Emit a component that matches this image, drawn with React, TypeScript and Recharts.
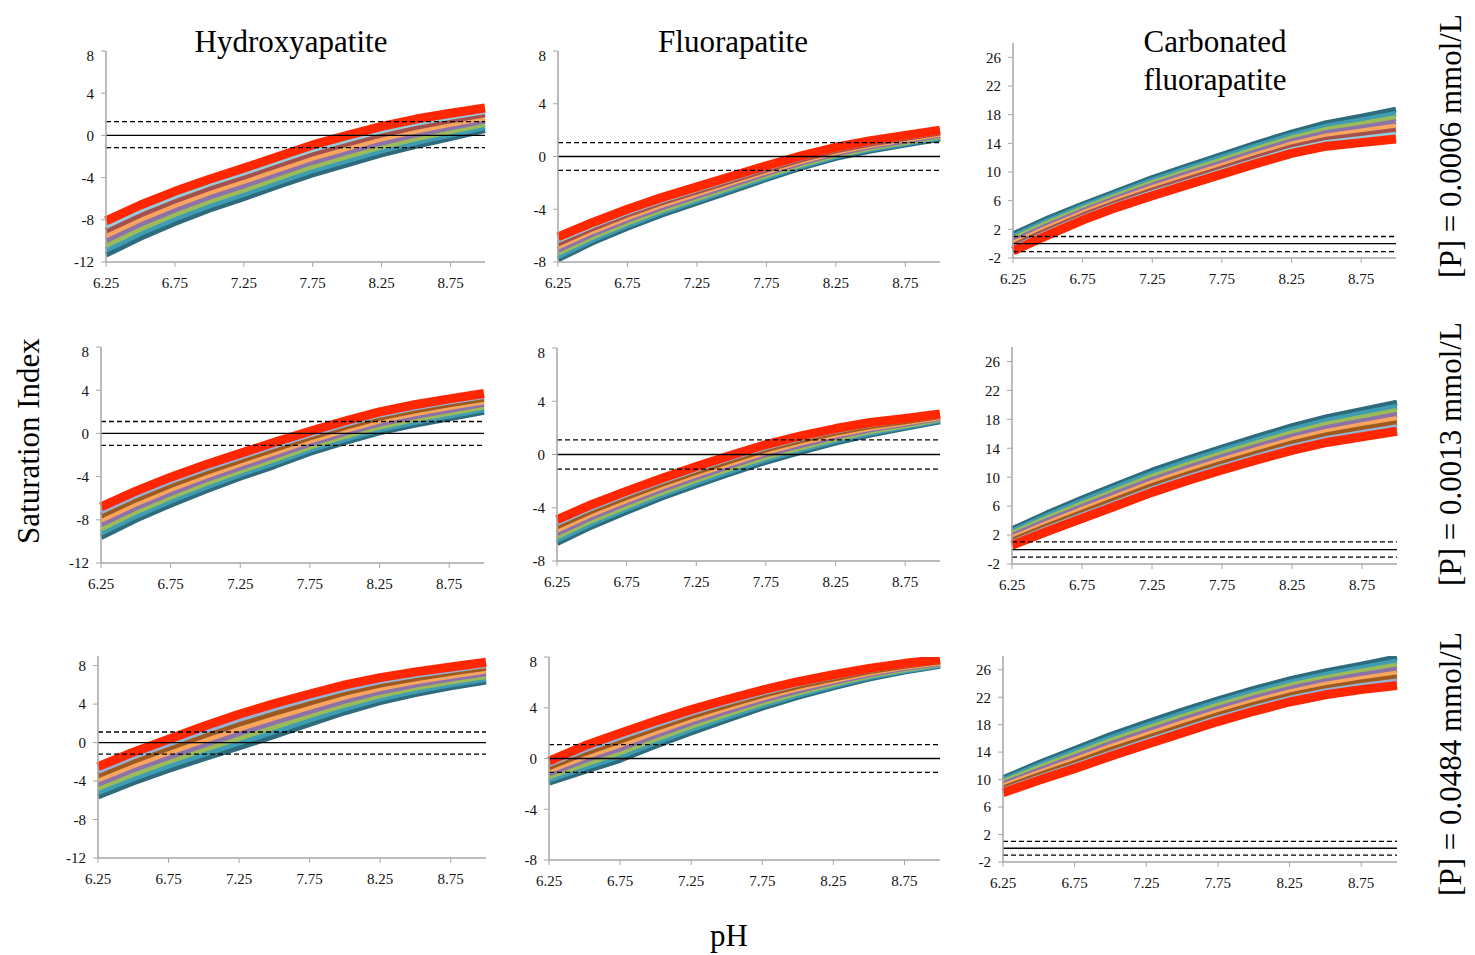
import { LineChart, Line, XAxis, YAxis, ReferenceLine } from "recharts";

// pH categories on the x axis
const phValues = ["6.25", "6.50", "6.75", "7.00", "7.25", "7.50", "7.75", "8.00", "8.25", "8.50", "8.75", "9.00"];

// one row per series, top band colour first (red) down to dark teal
const hydroxyLow = [
  [-8.1, -6.6, -5.3, -4.15, -3.1, -2.0, -0.9, 0.0, 0.85, 1.55, 2.1, 2.6],
  [-8.56, -7.04, -5.73, -4.56, -3.51, -2.4, -1.3, -0.39, 0.47, 1.19, 1.76, 2.3],
  [-9.01, -7.49, -6.16, -4.98, -3.91, -2.8, -1.7, -0.79, 0.09, 0.82, 1.43, 2.0],
  [-9.47, -7.93, -6.59, -5.39, -4.32, -3.2, -2.1, -1.18, -0.29, 0.46, 1.09, 1.7],
  [-9.93, -8.37, -7.02, -5.81, -4.73, -3.6, -2.5, -1.57, -0.67, 0.09, 0.76, 1.4],
  [-10.39, -8.82, -7.45, -6.22, -5.14, -4.0, -2.9, -1.97, -1.05, -0.27, 0.42, 1.1],
  [-10.84, -9.26, -7.87, -6.63, -5.54, -4.4, -3.3, -2.36, -1.42, -0.63, 0.08, 0.8],
  [-11.3, -9.7, -8.3, -7.05, -5.95, -4.8, -3.7, -2.75, -1.8, -1.0, -0.25, 0.5],
];
const fluorLow = [
  [-6.1, -5.0, -4.0, -3.1, -2.3, -1.5, -0.7, 0.05, 0.7, 1.2, 1.6, 2.0],
  [-6.34, -5.21, -4.2, -3.29, -2.47, -1.66, -0.84, -0.08, 0.59, 1.09, 1.5, 1.91],
  [-6.59, -5.43, -4.4, -3.47, -2.64, -1.81, -0.99, -0.21, 0.47, 0.99, 1.4, 1.81],
  [-6.83, -5.64, -4.6, -3.66, -2.81, -1.97, -1.13, -0.34, 0.36, 0.88, 1.3, 1.72],
  [-7.07, -5.86, -4.8, -3.84, -2.99, -2.13, -1.27, -0.46, 0.24, 0.77, 1.2, 1.63],
  [-7.31, -6.07, -5.0, -4.03, -3.16, -2.29, -1.41, -0.59, 0.13, 0.66, 1.1, 1.54],
  [-7.56, -6.29, -5.2, -4.21, -3.33, -2.44, -1.56, -0.72, 0.01, 0.56, 1.0, 1.44],
  [-7.8, -6.5, -5.4, -4.4, -3.5, -2.6, -1.7, -0.85, -0.1, 0.45, 0.9, 1.35],
];
const carbLow = [
  [-1.0, 1.2, 3.3, 5.1, 6.7, 8.2, 9.7, 11.2, 12.6, 13.6, 14.1, 14.6],
  [-0.67, 1.53, 3.61, 5.41, 7.05, 8.57, 10.09, 11.6, 13.01, 14.06, 14.61, 15.19],
  [-0.34, 1.86, 3.91, 5.73, 7.4, 8.94, 10.47, 12.0, 13.43, 14.51, 15.13, 15.77],
  [-0.01, 2.19, 4.22, 6.04, 7.75, 9.31, 10.86, 12.4, 13.84, 14.97, 15.64, 16.36],
  [0.31, 2.51, 4.53, 6.36, 8.1, 9.69, 11.24, 12.8, 14.26, 15.43, 16.16, 16.94],
  [0.64, 2.84, 4.84, 6.67, 8.45, 10.06, 11.63, 13.2, 14.67, 15.89, 16.67, 17.53],
  [0.97, 3.17, 5.14, 6.99, 8.8, 10.43, 12.01, 13.6, 15.09, 16.34, 17.19, 18.11],
  [1.3, 3.5, 5.45, 7.3, 9.15, 10.8, 12.4, 14.0, 15.5, 16.8, 17.7, 18.7],
];

const hydroxyMid = [
  [-6.8, -5.35, -4.05, -2.9, -1.85, -0.8, 0.2, 1.15, 2.0, 2.65, 3.2, 3.7],
  [-7.2, -5.73, -4.41, -3.24, -2.17, -1.11, -0.09, 0.87, 1.73, 2.39, 2.94, 3.46],
  [-7.6, -6.11, -4.78, -3.59, -2.49, -1.43, -0.37, 0.59, 1.46, 2.12, 2.69, 3.21],
  [-8.0, -6.49, -5.14, -3.93, -2.81, -1.74, -0.66, 0.31, 1.19, 1.86, 2.43, 2.97],
  [-8.4, -6.86, -5.51, -4.27, -3.14, -2.06, -0.94, 0.04, 0.91, 1.59, 2.17, 2.73],
  [-8.8, -7.24, -5.87, -4.61, -3.46, -2.37, -1.23, -0.24, 0.64, 1.33, 1.91, 2.49],
  [-9.2, -7.62, -6.24, -4.96, -3.78, -2.69, -1.51, -0.52, 0.37, 1.06, 1.66, 2.24],
  [-9.6, -8.0, -6.6, -5.3, -4.1, -3.0, -1.8, -0.8, 0.1, 0.8, 1.4, 2.0],
];
const fluorMid = [
  [-4.9, -3.75, -2.75, -1.8, -0.9, -0.05, 0.75, 1.4, 1.95, 2.4, 2.7, 3.05],
  [-5.15, -3.99, -2.97, -2.01, -1.1, -0.24, 0.56, 1.23, 1.8, 2.27, 2.6, 2.97],
  [-5.4, -4.22, -3.19, -2.21, -1.3, -0.44, 0.38, 1.06, 1.65, 2.14, 2.5, 2.89],
  [-5.65, -4.46, -3.41, -2.42, -1.5, -0.63, 0.19, 0.89, 1.5, 2.01, 2.4, 2.81],
  [-5.9, -4.69, -3.63, -2.63, -1.7, -0.82, 0.01, 0.71, 1.35, 1.89, 2.3, 2.74],
  [-6.15, -4.93, -3.86, -2.84, -1.9, -1.01, -0.18, 0.54, 1.2, 1.76, 2.2, 2.66],
  [-6.4, -5.16, -4.08, -3.04, -2.1, -1.21, -0.36, 0.37, 1.05, 1.63, 2.1, 2.58],
  [-6.65, -5.4, -4.3, -3.25, -2.3, -1.4, -0.55, 0.2, 0.9, 1.5, 2.0, 2.5],
];
const carbMid = [
  [0.6, 2.5, 4.3, 6.1, 7.9, 9.5, 11.0, 12.4, 13.7, 14.8, 15.6, 16.35],
  [0.91, 2.86, 4.69, 6.51, 8.33, 9.94, 11.44, 12.86, 14.18, 15.3, 16.13, 16.91],
  [1.23, 3.21, 5.09, 6.93, 8.76, 10.37, 11.89, 13.31, 14.66, 15.8, 16.66, 17.48],
  [1.54, 3.57, 5.48, 7.34, 9.19, 10.81, 12.33, 13.77, 15.14, 16.3, 17.19, 18.04],
  [1.86, 3.93, 5.87, 7.76, 9.61, 11.24, 12.77, 14.23, 15.61, 16.8, 17.71, 18.61],
  [2.17, 4.29, 6.26, 8.17, 10.04, 11.68, 13.21, 14.69, 16.09, 17.3, 18.24, 19.17],
  [2.49, 4.64, 6.66, 8.59, 10.47, 12.11, 13.66, 15.14, 16.57, 17.8, 18.77, 19.74],
  [2.8, 5.0, 7.05, 9.0, 10.9, 12.55, 14.1, 15.6, 17.05, 18.3, 19.3, 20.3],
];

const hydroxyHigh = [
  [-2.5, -1.0, 0.35, 1.7, 2.95, 4.05, 5.05, 6.0, 6.75, 7.35, 7.85, 8.35],
  [-2.94, -1.45, -0.11, 1.22, 2.46, 3.57, 4.61, 5.59, 6.39, 7.02, 7.55, 8.06],
  [-3.39, -1.9, -0.56, 0.74, 1.96, 3.09, 4.16, 5.19, 6.02, 6.69, 7.25, 7.78],
  [-3.83, -2.35, -1.02, 0.26, 1.47, 2.61, 3.72, 4.78, 5.66, 6.36, 6.95, 7.49],
  [-4.27, -2.8, -1.48, -0.21, 0.98, 2.14, 3.28, 4.37, 5.29, 6.04, 6.65, 7.21],
  [-4.71, -3.25, -1.94, -0.69, 0.49, 1.66, 2.84, 3.96, 4.93, 5.71, 6.35, 6.92],
  [-5.16, -3.7, -2.39, -1.17, -0.01, 1.18, 2.39, 3.56, 4.57, 5.38, 6.05, 6.64],
  [-5.6, -4.15, -2.85, -1.65, -0.5, 0.7, 1.95, 3.15, 4.2, 5.05, 5.75, 6.35],
];
const fluorHigh = [
  [-0.2, 1.0, 2.0, 2.95, 3.85, 4.65, 5.4, 6.05, 6.6, 7.1, 7.5, 7.8],
  [-0.44, 0.71, 1.7, 2.67, 3.59, 4.42, 5.2, 5.88, 6.46, 6.99, 7.41, 7.73],
  [-0.69, 0.43, 1.4, 2.39, 3.34, 4.19, 5.0, 5.71, 6.31, 6.87, 7.31, 7.66],
  [-0.93, 0.14, 1.1, 2.11, 3.08, 3.96, 4.8, 5.54, 6.17, 6.76, 7.22, 7.59],
  [-1.17, -0.14, 0.8, 1.84, 2.82, 3.74, 4.6, 5.36, 6.03, 6.64, 7.13, 7.51],
  [-1.41, -0.43, 0.5, 1.56, 2.56, 3.51, 4.4, 5.19, 5.89, 6.53, 7.04, 7.44],
  [-1.66, -0.71, 0.2, 1.28, 2.31, 3.28, 4.2, 5.02, 5.74, 6.41, 6.94, 7.37],
  [-1.9, -1.0, -0.1, 1.0, 2.05, 3.05, 4.0, 4.85, 5.6, 6.3, 6.85, 7.3],
];
const carbHigh = [
  [8.1, 9.9, 11.6, 13.4, 15.1, 16.8, 18.45, 19.95, 21.3, 22.35, 23.1, 23.7],
  [8.4, 10.26, 12.01, 13.84, 15.56, 17.26, 18.91, 20.41, 21.77, 22.84, 23.62, 24.29],
  [8.7, 10.61, 12.41, 14.29, 16.01, 17.73, 19.38, 20.88, 22.24, 23.32, 24.14, 24.87],
  [9.0, 10.97, 12.82, 14.73, 16.47, 18.19, 19.84, 21.34, 22.71, 23.81, 24.66, 25.46],
  [9.3, 11.33, 13.23, 15.17, 16.93, 18.66, 20.31, 21.81, 23.19, 24.29, 25.19, 26.04],
  [9.6, 11.69, 13.64, 15.61, 17.39, 19.12, 20.77, 22.27, 23.66, 24.78, 25.71, 26.63],
  [9.9, 12.04, 14.04, 16.06, 17.84, 19.59, 21.24, 22.74, 24.13, 25.26, 26.23, 27.21],
  [10.2, 12.4, 14.45, 16.5, 18.3, 20.05, 21.7, 23.2, 24.6, 25.75, 26.75, 27.8],
];

const hydroxyTicks = [-12, -8, -4, 0, 4, 8];
const fluorTicks = [-8, -4, 0, 4, 8];
const carbTicks = [-2, 2, 6, 10, 14, 18, 22, 26];

// equilibrium band: [upper, zero, lower]
const limitsHydroxyLow = [1.3, 0, -1.15];
const limitsFluorLow = [1.05, 0, -1.05];
const limitsCarbLow = [1.0, 0, -1.1];
const limitsHydroxyMid = [1.1, 0, -1.1];
const limitsFluorMid = [1.1, 0, -1.1];
const limitsCarbMid = [1.05, 0, -1.05];
const limitsHydroxyHigh = [1.1, 0, -1.2];
const limitsFluorHigh = [1.1, 0, -1.1];
const limitsCarbHigh = [1.0, 0, -1.0];

const colorsTop = ["#FF2600", "#93CDDD", "#A5504D", "#F9A55E", "#8C72A8", "#9BBB59", "#3E9DB3", "#2D6B7D"];
const colorsLower = ["#FF2600", "#95B3D7", "#9E5A1E", "#F9A55E", "#8C72A8", "#9BBB59", "#3E9DB3", "#2D6B7D"];

const serif = "'Liberation Serif', 'Times New Roman', serif";
const axisGrey = "#A6A6A6";

interface PanelProps {
  x0: number;
  x1: number;
  yTop: number;
  yBot: number;
  domain: [number, number];
  ticks: number[];
  series: number[][];
  colors: string[];
  limits: number[];
}

const Y_W = 50;
const X_H = 40;
const M_TOP = 4;
const M_RIGHT = 10;

function Panel({ x0, x1, yTop, yBot, domain, ticks, series, colors, limits }: PanelProps) {
  const data = phValues.map((ph, i) => {
    const row: Record<string, number | string> = { ph };
    series.forEach((s, k) => {
      row[`s${k}`] = s[i];
    });
    return row;
  });
  const width = Y_W + (x1 - x0) + M_RIGHT;
  const height = M_TOP + (yBot - yTop) + X_H;
  // draw dark teal first so the red band sits on top
  const order = series.map((_, k) => k).reverse();
  return (
    <div style={{ position: "absolute", left: x0 - Y_W, top: yTop - M_TOP }}>
      <LineChart width={width} height={height} data={data} margin={{ top: M_TOP, right: M_RIGHT, bottom: 0, left: 0 }}>
        <XAxis
          dataKey="ph"
          interval={1}
          padding={{ left: 0, right: 0 }}
          height={X_H}
          axisLine={{ stroke: axisGrey, strokeWidth: 1.5 }}
          tickLine={{ stroke: axisGrey }}
          tickSize={5}
          tickMargin={10}
          tick={{ fill: "#111", fontSize: 15, fontFamily: serif }}
        />
        <YAxis
          type="number"
          domain={domain}
          ticks={ticks}
          allowDataOverflow
          width={Y_W}
          axisLine={{ stroke: axisGrey, strokeWidth: 1.5 }}
          tickLine={{ stroke: axisGrey }}
          tickSize={5}
          tickMargin={7}
          tick={{ fill: "#111", fontSize: 15, fontFamily: serif }}
        />
        {order.map((k) => (
          <Line
            key={k}
            type="linear"
            dataKey={`s${k}`}
            stroke={colors[k]}
            strokeWidth={k === 0 ? 9 : 6}
            strokeLinejoin="round"
            dot={false}
            activeDot={false}
            isAnimationActive={false}
          />
        ))}
        {limits.map((v, i) => (
          <ReferenceLine
            key={i}
            y={v}
            stroke="#000"
            strokeWidth={1.3}
            strokeDasharray={v === 0 ? undefined : "5 3"}
            ifOverflow="extendDomain"
          />
        ))}
      </LineChart>
    </div>
  );
}

const textBase: React.CSSProperties = {
  position: "absolute",
  fontFamily: serif,
  fontSize: 31,
  color: "#000",
  whiteSpace: "nowrap",
  lineHeight: 1,
};

function Label({ x, y, text, rotate }: { x: number; y: number; text: string; rotate?: boolean }) {
  return (
    <div
      style={{
        ...textBase,
        left: x,
        top: y,
        transform: `translate(-50%, -50%)${rotate ? " rotate(-90deg)" : ""}`,
      }}
    >
      {text}
    </div>
  );
}

export default function App() {
  return (
    <div style={{ position: "absolute", left: 0, top: 0, width: 1475, height: 955, background: "#fff", overflow: "hidden" }}>
      <Panel x0={106} x1={485} yTop={51} yBot={262} domain={[-12, 8]} ticks={hydroxyTicks} series={hydroxyLow} colors={colorsTop} limits={limitsHydroxyLow} />
      <Panel x0={558} x1={940} yTop={51} yBot={262} domain={[-8, 8]} ticks={fluorTicks} series={fluorLow} colors={colorsTop} limits={limitsFluorLow} />
      <Panel x0={1013} x1={1396} yTop={43} yBot={258} domain={[-2, 28]} ticks={carbTicks} series={carbLow} colors={colorsTop} limits={limitsCarbLow} />

      <Panel x0={101} x1={484} yTop={347} yBot={563} domain={[-12, 8]} ticks={hydroxyTicks} series={hydroxyMid} colors={colorsLower} limits={limitsHydroxyMid} />
      <Panel x0={557} x1={940} yTop={348} yBot={561} domain={[-8, 8]} ticks={fluorTicks} series={fluorMid} colors={colorsLower} limits={limitsFluorMid} />
      <Panel x0={1012} x1={1397} yTop={347} yBot={564} domain={[-2, 28]} ticks={carbTicks} series={carbMid} colors={colorsLower} limits={limitsCarbMid} />

      <Panel x0={98} x1={486} yTop={656} yBot={858} domain={[-12, 9]} ticks={hydroxyTicks} series={hydroxyHigh} colors={colorsLower} limits={limitsHydroxyHigh} />
      <Panel x0={549} x1={940} yTop={657} yBot={860} domain={[-8, 8]} ticks={fluorTicks} series={fluorHigh} colors={colorsLower} limits={limitsFluorHigh} />
      <Panel x0={1003} x1={1397} yTop={656} yBot={862} domain={[-2, 28]} ticks={carbTicks} series={carbHigh} colors={colorsLower} limits={limitsCarbHigh} />

      <Label x={291} y={41} text="Hydroxyapatite" />
      <Label x={733} y={41} text="Fluorapatite" />
      <Label x={1215} y={41} text="Carbonated" />
      <Label x={1215} y={79} text="fluorapatite" />

      <Label x={1450} y={146} text="[P] = 0.0006 mmol/L" rotate />
      <Label x={1450} y={454} text="[P] = 0.0013 mmol/L" rotate />
      <Label x={1450} y={764} text="[P] = 0.0484 mmol/L" rotate />

      <Label x={28} y={441} text="Saturation Index" rotate />
      <Label x={729} y={935} text="pH" />
    </div>
  );
}
